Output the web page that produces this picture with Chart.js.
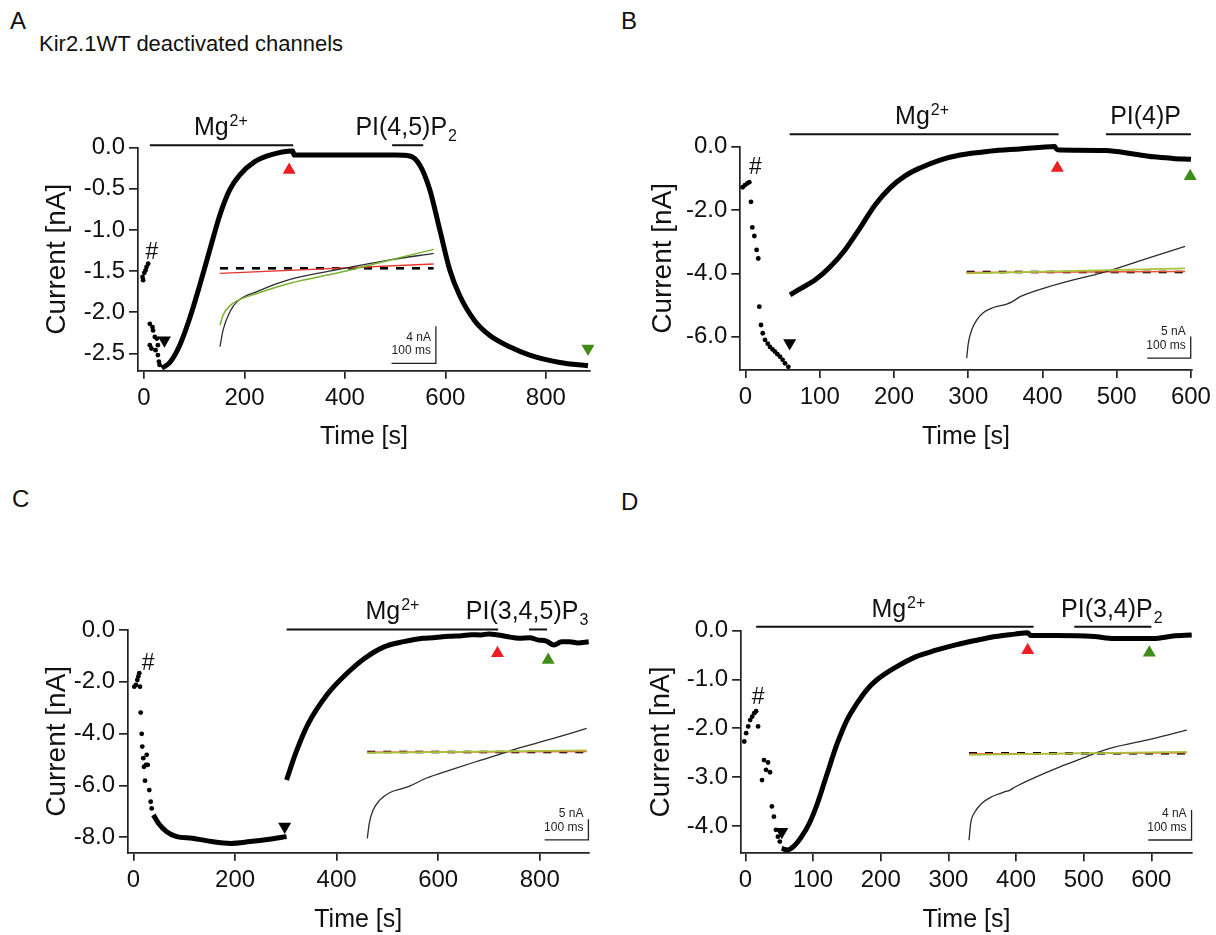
<!DOCTYPE html>
<html>
<head>
<meta charset="utf-8">
<script src="https://cdn.jsdelivr.net/npm/chart.js@4.4.0/dist/chart.umd.min.js"></script>
<style>
  body { margin: 0; background: #fff; width: 1216px; height: 935px; position: relative; overflow: hidden;
         font-family: "Liberation Sans", Arial, sans-serif; color: #111; }
  canvas { position: absolute; }
  .lbl { position: absolute; white-space: nowrap; line-height: 1; }
</style>
</head>
<body>
<div class="lbl" style="left:10px;top:9px;font-size:24px">A</div>
<div class="lbl" style="left:39px;top:33px;font-size:22px">Kir2.1WT deactivated channels</div>
<div class="lbl" style="left:621px;top:9px;font-size:24px">B</div>
<div class="lbl" style="left:12px;top:487px;font-size:24px">C</div>
<div class="lbl" style="left:621px;top:490px;font-size:24px">D</div>

<canvas id="cA"></canvas><canvas id="cB"></canvas><canvas id="cC"></canvas><canvas id="cD"></canvas>
<canvas id="iA"></canvas><canvas id="iB"></canvas><canvas id="iC"></canvas><canvas id="iD"></canvas>

<script>
// ---- PANEL A : PI(4,5)P2 ----
const aXTicks = [0, 200, 400, 600, 800];
const aYTicks = [0, -0.5, -1, -1.5, -2, -2.5];
const aDotT = [-3, -1.8, 0.6, 3, 5, 8.2, 11.5, 16.8, 18, 21.5, 11.5, 14.8, 25.6, 27.6, 23, 27.6, 29.6, 31];
const aDotI = [-1.57, -1.61, -1.52, -1.49, -1.45, -1.41, -2.14, -2.18, -2.22, -2.3, -2.4, -2.44, -2.32, -2.4, -2.46, -2.52, -2.6, -2.64];
const aTraceT = [35.4, 51.3, 71.2, 91.1, 111, 131, 150.9, 170.8, 190.7, 220.5, 250.4, 296, 299, 350, 400, 450, 500, 529,
                 549, 569, 589, 609, 628, 658, 688, 728, 768, 828, 884];
const aTraceI = [-2.68, -2.61, -2.4, -2.07, -1.67, -1.24, -0.82, -0.51, -0.33, -0.17, -0.09, -0.04, -0.09, -0.09, -0.09, -0.09, -0.09, -0.1,
                 -0.21, -0.51, -1.0, -1.49, -1.79, -2.1, -2.28, -2.42, -2.52, -2.61, -2.65];
const aRed = [289, -0.27], aGreen = [884, -2.44], aBlack = [40.6, -2.34], aHash = [15.5, -1.27];
const aBars = [{ from: 11.5, to: 297, y: 0.03, at: 153, label: ['Mg', '2+', ''] },
               { from: 494, to: 556, y: 0.03, at: 522, label: ['PI(4,5)P', '', '2'] }];
// inset A (ms / nA)
const insAT = [0, 7, 23, 38, 83, 158, 271, 384, 482];
const insABlack = [-8.4, -6.6, -4.6, -3.6, -2.5, -1.2, -0.1, 0.9, 1.6];
const insAGreen = [-6.1, -5.0, -4.0, -3.5, -2.7, -1.6, -0.43, 0.9, 2.03];
const insARed = [-0.54, 0.46];

// ---- PANEL B : PI(4)P ----
const bXTicks = [0, 100, 200, 300, 400, 500, 600];
const bYTicks = [0, -2, -4, -6];
const bDotT = [-3.8, -0.7, 2.4, 5.1, 7.4, 9.2, 11.9, 15, 17.2, 18.6, 20.9, 23.2, 26.3, 30, 33, 36.5, 39.7, 43, 46.5, 50, 53.2, 57.7];
const bDotI = [-1.28, -1.21, -1.16, -1.12, -1.74, -2.55, -2.82, -3.26, -3.53, -5.05, -5.63, -5.89, -6.1, -6.22, -6.32, -6.4, -6.47, -6.55, -6.63, -6.73, -6.84, -6.95];
const bTraceT = [60, 73.4, 93.6, 113.8, 134, 154.2, 174.5, 194.7, 214.9, 235.1, 262, 289, 329.4, 369.8, 416.3,
                 420, 443, 485.5, 522.8, 549.5, 576, 600];
const bTraceI = [-4.68, -4.49, -4.21, -3.8, -3.26, -2.57, -1.84, -1.3, -0.92, -0.67, -0.42, -0.26, -0.14, -0.07, 0.01,
                 -0.1, -0.11, -0.12, -0.23, -0.32, -0.37, -0.4];
const bRed = [420, -0.67], bGreen = [599, -0.93], bBlack = [59.5, -6.2], bHash = [13.2, -0.67];
const bBars = [{ from: 59.5, to: 421.7, y: 0.39, at: 237.8, label: ['Mg', '2+', ''] },
               { from: 485.5, to: 600, y: 0.39, at: 538.9, label: ['PI(4)P', '', ''] }];
const insBT = [0, 3.7, 11.5, 23, 38, 61, 92, 104, 123, 169, 230, 291, 318, 410, 502];
const insBBlack = [-19.9, -16.5, -13.4, -11.1, -9.4, -8.2, -7.4, -6.9, -5.7, -4.0, -2.2, -0.7, 0, 3.0, 5.9];
const insBGreen = [-0.3, 0.85];
const insBRed = [-0.1, 0.1];

// ---- PANEL C : PI(3,4,5)P3 ----
const cXTicks = [0, 200, 400, 600, 800];
const cYTicks = [0, -2, -4, -6, -8];
const cDotT = [1.6, 4.9, 7.5, 9.5, 11.4, 12.8, 14.2, 16.2, 17.3, 19.3, 26, 20.7, 24.6, 28, 22.7, 31.1, 33.9, 35.9];
const cDotI = [-2.19, -2.12, -1.93, -1.8, -1.67, -2.19, -3.19, -4.01, -4.5, -4.95, -4.82, -5.28, -5.21, -5.21, -5.82, -6.18, -6.63, -6.89];
const cTrace1T = [39.2, 49.1, 65.4, 85.1, 115.8, 153.7, 191.7, 229.5, 267.4, 301.5];
const cTrace1I = [-7.14, -7.46, -7.79, -7.98, -8.04, -8.17, -8.24, -8.17, -8.08, -7.98];
const cTrace2T = [301.5, 320.5, 343.2, 381, 419, 456.8, 494.7, 532.5, 570.5, 590, 608.3, 627, 646.2, 665, 684.2, 700, 718.3,
                  735, 759.9, 780, 797.9, 812, 828, 843, 858.4, 875, 896.4];
const cTrace2I = [-5.79, -4.7, -3.65, -2.5, -1.7, -1.07, -0.64, -0.45, -0.32, -0.3, -0.26, -0.24, -0.22, -0.18, -0.19, -0.15, -0.19,
                  -0.25, -0.32, -0.3, -0.39, -0.42, -0.58, -0.45, -0.45, -0.5, -0.45];
const cRed = [716.7, -0.9], cGreen = [816.6, -1.16], cBlack = [297.7, -7.59], cHash = [29, -1.29];
const cBars = [{ from: 301.5, to: 718, y: 0.02, at: 510, label: ['Mg', '2+', ''] },
               { from: 778.8, to: 814.5, y: 0.02, at: 775, label: ['PI(3,4,5)P', '', '3'] }];
const insCT = [0, 4.6, 13.7, 29, 52, 82, 98, 136, 189, 250, 311, 326, 420, 502];
const insCBlack = [-20.9, -17.2, -14.0, -11.6, -9.8, -8.8, -8.2, -6.3, -4.4, -2.3, -0.3, 0.3, 3.1, 5.7];
const insCGreen = [-0.2, 0.4];
const insCRed = [-0.05, 0.1];

// ---- PANEL D : PI(3,4)P2 ----
const dXTicks = [0, 100, 200, 300, 400, 500, 600];
const dYTicks = [0, -1, -2, -3, -4];
const dDotT = [-1.8, 1, 4, 6.9, 9.9, 12.9, 15.7, 18.6, 24.4, 27.3, 30.3, 33.3, 36.2, 39, 42, 44.9, 47.9, 50.7];
const dDotI = [-2.27, -2.1, -1.96, -1.83, -1.76, -1.69, -1.65, -1.96, -3.06, -2.65, -2.85, -2.7, -2.9, -3.6, -3.81, -4.08, -4.22, -4.32];
const dTraceT = [53.5, 62.4, 71.2, 82.9, 94.6, 106.3, 120.9, 135.6, 150, 164.7, 179.3, 193.9, 223, 252.3, 281.6, 310.7, 340, 369.3,
                 398.4, 417.2, 421.7, 456.8, 515.3, 544.4, 603, 632, 659.6];
const dTraceI = [-4.46, -4.49, -4.42, -4.22, -3.94, -3.54, -2.92, -2.31, -1.83, -1.49, -1.21, -1.01, -0.74, -0.53, -0.4, -0.29, -0.2, -0.12,
                 -0.07, -0.04, -0.1, -0.1, -0.12, -0.16, -0.16, -0.11, -0.09];
const dRed = [417.2, -0.4], dGreen = [597, -0.45], dBlack = [53.7, -4.12], dHash = [18.6, -1.38];
const dBars = [{ from: 15.7, to: 425.9, y: 0.08, at: 226, label: ['Mg', '2+', ''] },
               { from: 486, to: 600, y: 0.08, at: 541.6, label: ['PI(3,4)P', '', '2'] }];
const insDT = [0, 4, 14, 29, 52, 79, 95, 106, 149, 210, 272, 295, 325, 420, 503];
const insDBlack = [-11.6, -9.3, -7.8, -6.7, -5.8, -5.2, -4.9, -4.5, -3.3, -1.8, -0.45, 0.08, 0.67, 1.9, 3.1];
const insDGreen = [-0.2, 0.2];
const insDRed = [-0.08, 0.05];

// ---------------------------------------------------------------
const FONT = '"Liberation Sans", Arial, sans-serif';
Chart.defaults.font.family = FONT;
Chart.defaults.color = '#111';
Chart.defaults.animation = false;

const RED = '#ee1d24', GREEN = '#3f8c17';
const TICK_PX = 24, XTITLE_PX = 25, YTITLE_PX = 28;

function pts(ts, vs) { return ts.map((t, i) => ({ x: t, y: vs[i] })); }

function place(id, box) {
  const c = document.getElementById(id);
  c.width = box[2]; c.height = box[3];
  c.style.left = box[0] + 'px'; c.style.top = box[1] + 'px';
  return c;
}

function drawRich(ctx, parts, cx, baseY) {
  const [txt, sup, sub] = parts;
  ctx.font = '25px ' + FONT;
  const w0 = ctx.measureText(txt).width;
  ctx.font = '16px ' + FONT;
  const w1 = (sup || sub) ? ctx.measureText(sup || sub).width + 1 : 0;
  const x = cx - (w0 + w1) / 2;
  ctx.textAlign = 'left'; ctx.textBaseline = 'alphabetic';
  ctx.font = '25px ' + FONT;
  ctx.fillText(txt, x, baseY);
  ctx.font = '16px ' + FONT;
  if (sup) ctx.fillText(sup, x + w0 + 1, baseY - 9);
  if (sub) ctx.fillText(sub, x + w0 + 1, baseY + 6);
}

function marksPlugin(p) {
  return {
    id: 'marks' + p.canvas,
    afterDatasetsDraw(chart) {
      const { ctx } = chart, sx = chart.scales.x, sy = chart.scales.y;
      ctx.save();
      ctx.strokeStyle = '#111'; ctx.fillStyle = '#111'; ctx.lineWidth = 2;
      p.bars.forEach(b => {
        const py = sy.getPixelForValue(b.y);
        ctx.beginPath();
        ctx.moveTo(sx.getPixelForValue(b.from), py);
        ctx.lineTo(sx.getPixelForValue(b.to), py);
        ctx.stroke();
        drawRich(ctx, b.label, sx.getPixelForValue(b.at), py - 10);
      });
      ctx.font = '23px ' + FONT; ctx.textAlign = 'center'; ctx.textBaseline = 'middle';
      ctx.fillText('#', sx.getPixelForValue(p.hash[0]), sy.getPixelForValue(p.hash[1]));
      ctx.restore();
    }
  };
}

function tri(pt, color, down) {
  return { data: [{ x: pt[0], y: pt[1] }], pointStyle: 'triangle', pointRadius: 7.5, pointRotation: down ? 180 : 0,
           pointBackgroundColor: color, pointBorderWidth: 0, showLine: false, clip: false };
}

function makePanel(p) {
  const cv = place(p.canvas, p.box);
  const [bl, bt, bw, bh] = p.box;
  const [al, at, ar, ab] = p.area;
  const datasets = [
    { data: pts(p.dots[0], p.dots[1]), pointRadius: 2.4, pointBackgroundColor: '#000', pointBorderWidth: 0, showLine: false, clip: false }
  ];
  p.traces.forEach(tr => datasets.push({
    data: pts(tr[0], tr[1]), showLine: true, borderColor: '#000', borderWidth: 5, pointRadius: 0,
    cubicInterpolationMode: 'monotone', clip: false
  }));
  datasets.push(tri(p.red, RED, false), tri(p.green, GREEN, p.greenDown), tri(p.black, '#000', true));

  const axisCommon = {
    type: 'linear',
    border: { display: true, color: '#222', width: 1.7 },
    grid: { display: true, drawOnChartArea: false, drawTicks: true, color: '#222', lineWidth: 1.7 }
  };
  new Chart(cv, {
    type: 'scatter',
    data: { datasets },
    options: {
      responsive: false, events: [],
      layout: { padding: { top: at - bt, right: bl + bw - ar, left: 0, bottom: 0 } },
      plugins: { legend: { display: false }, tooltip: { enabled: false } },
      scales: {
        x: Object.assign({}, axisCommon, {
          min: p.xRange[0], max: p.xRange[1],
          grid: Object.assign({}, axisCommon.grid, { tickLength: 8 }),
          ticks: { font: { size: TICK_PX }, color: '#111', padding: 5, maxRotation: 0, autoSkip: false },
          afterBuildTicks: s => { s.ticks = p.xTicks.map(v => ({ value: v })); },
          afterFit: s => { s.height = bt + bh - ab; },
          title: { display: true, text: 'Time [s]', font: { size: XTITLE_PX }, color: '#111',
                   padding: { top: 0, bottom: Math.max(0, p.xTitleY - XTITLE_PX * 0.6) } }
        }),
        y: Object.assign({}, axisCommon, {
          min: p.yRange[0], max: p.yRange[1],
          grid: Object.assign({}, axisCommon.grid, { tickLength: 9 }),
          ticks: { font: { size: TICK_PX }, color: '#111', padding: 4, autoSkip: false, callback: v => v.toFixed(1) },
          afterBuildTicks: s => { s.ticks = p.yTicks.map(v => ({ value: v })); },
          afterFit: s => { s.width = al - bl; },
          title: { display: true, text: 'Current [nA]', font: { size: YTITLE_PX }, color: '#111',
                   padding: { top: p.yTitleX - YTITLE_PX * 0.6, bottom: 0 } }
        })
      }
    },
    plugins: [marksPlugin(p)]
  });
}

function makeInset(q) {
  const cv = place(q.canvas, q.box);
  const [bl, bt, bw, bh] = q.box;
  const tEnd = q.t[q.t.length - 1];
  const [sbT, sbLow, sbNA] = q.bar;
  const ds = [];
  if (q.greenFit) {
    ds.push({ data: pts(q.t, q.greenFit), showLine: true, borderColor: '#78b22e', borderWidth: 1.5, pointRadius: 0, cubicInterpolationMode: 'monotone' });
  } else {
    ds.push({ data: pts([0, tEnd], q.green), showLine: true, borderColor: '#a9c43c', borderWidth: 1.8, pointRadius: 0 });
  }
  ds.push(
    { data: pts(q.t, q.black), showLine: true, borderColor: '#2b2b33', borderWidth: 1.3, pointRadius: 0, cubicInterpolationMode: 'monotone' },
    { data: pts([0, tEnd], q.red), showLine: true, borderColor: q.redColor, borderWidth: 1.4, pointRadius: 0 },
    { data: pts([0, tEnd], [0, 0]), showLine: true, borderColor: '#000', borderWidth: 2.6, borderDash: [8, 8], pointRadius: 0 },
    { data: pts([sbT - 100, sbT, sbT], [sbLow, sbLow, sbLow + sbNA]), showLine: true, borderColor: '#222', borderWidth: 1.3, pointRadius: 0 }
  );
  new Chart(cv, {
    type: 'scatter',
    data: { datasets: ds },
    options: {
      responsive: false, events: [],
      layout: { padding: 0 },
      plugins: { legend: { display: false }, tooltip: { enabled: false } },
      scales: {
        x: { type: 'linear', display: false, min: (bl - q.x0) / q.pxMs, max: (bl + bw - q.x0) / q.pxMs },
        y: { type: 'linear', display: false, min: (q.y0 - (bt + bh)) / q.pxNA, max: (q.y0 - bt) / q.pxNA }
      }
    },
    plugins: [{
      id: 'sb' + q.canvas,
      afterDatasetsDraw(chart) {
        const { ctx } = chart, sx = chart.scales.x, sy = chart.scales.y;
        const xr = sx.getPixelForValue(sbT) - 5, yb = sy.getPixelForValue(sbLow);
        ctx.save();
        ctx.fillStyle = '#222'; ctx.font = '12px ' + FONT; ctx.textAlign = 'right'; ctx.textBaseline = 'middle';
        ctx.fillText(sbNA + ' nA', xr, yb - 26);
        ctx.fillText('100 ms', xr, yb - 12.5);
        ctx.restore();
      }
    }]
  });
}

// yTitleX: distance of the y title centre from the box left; xTitleY: distance of the x title centre from the box bottom
const panels = [
  { canvas: 'cA', box: [0, 0, 600, 460], area: [138, 147.7, 590, 370.7], xRange: [-12, 888], yRange: [-2.71, 0],
    xTicks: aXTicks, yTicks: aYTicks, yTitleX: 57, xTitleY: 23, dots: [aDotT, aDotI], traces: [[aTraceT, aTraceI]],
    red: aRed, green: aGreen, greenDown: true, black: aBlack, hash: aHash, bars: aBars },
  { canvas: 'cB', box: [602, 0, 614, 460], area: [740.3, 146.7, 1191.7, 370], xRange: [-7, 601], yRange: [-7.05, 0],
    xTicks: bXTicks, yTicks: bYTicks, yTitleX: 61, xTitleY: 23, dots: [bDotT, bDotI], traces: [[bTraceT, bTraceI]],
    red: bRed, green: bGreen, greenDown: false, black: bBlack, hash: bHash, bars: bBars },
  { canvas: 'cC', box: [0, 470, 600, 465], area: [128, 630, 588.5, 852.7], xRange: [-10.8, 896], yRange: [-8.6, 0],
    xTicks: cXTicks, yTicks: cYTicks, yTitleX: 57.5, xTitleY: 15, dots: [cDotT, cDotI], traces: [[cTrace1T, cTrace1I], [cTrace2T, cTrace2I]],
    red: cRed, green: cGreen, greenDown: false, black: cBlack, hash: cHash, bars: cBars },
  { canvas: 'cD', box: [602, 470, 614, 465], area: [741.1, 630.7, 1191.7, 853.3], xRange: [-6.5, 659.6], yRange: [-4.56, 0],
    xTicks: dXTicks, yTicks: dYTicks, yTitleX: 59.5, xTitleY: 15, dots: [dDotT, dDotI], traces: [[dTraceT, dTraceI]],
    red: dRed, green: dGreen, greenDown: false, black: dBlack, hash: dHash, bars: dBars }
];
panels.forEach(makePanel);

const insets = [
  { canvas: 'iA', box: [200, 232, 250, 138], x0: 220, y0: 268.3, pxMs: 0.4433, pxNA: 9.33,
    t: insAT, black: insABlack, greenFit: insAGreen, red: insARed, redColor: '#e8352c', bar: [487, -10.2, 4] },
  { canvas: 'iB', box: [950, 232, 250, 135], x0: 966.7, y0: 272, pxMs: 0.435, pxNA: 4.33,
    t: insBT, black: insBBlack, green: insBGreen, red: insBRed, redColor: '#e8543a', bar: [515, -19.9, 5] },
  { canvas: 'iC', box: [350, 712, 250, 140], x0: 367.3, y0: 752, pxMs: 0.437, pxNA: 4.13,
    t: insCT, black: insCBlack, green: insCGreen, red: insCRed, redColor: '#e8543a', bar: [506, -21.3, 5] },
  { canvas: 'iD', box: [950, 712, 250, 140], x0: 969, y0: 753.3, pxMs: 0.433, pxNA: 7.5,
    t: insDT, black: insDBlack, green: insDGreen, red: insDRed, redColor: '#e8543a', bar: [514, -11.56, 4] }
];
insets.forEach(makeInset);
</script>
</body>
</html>
